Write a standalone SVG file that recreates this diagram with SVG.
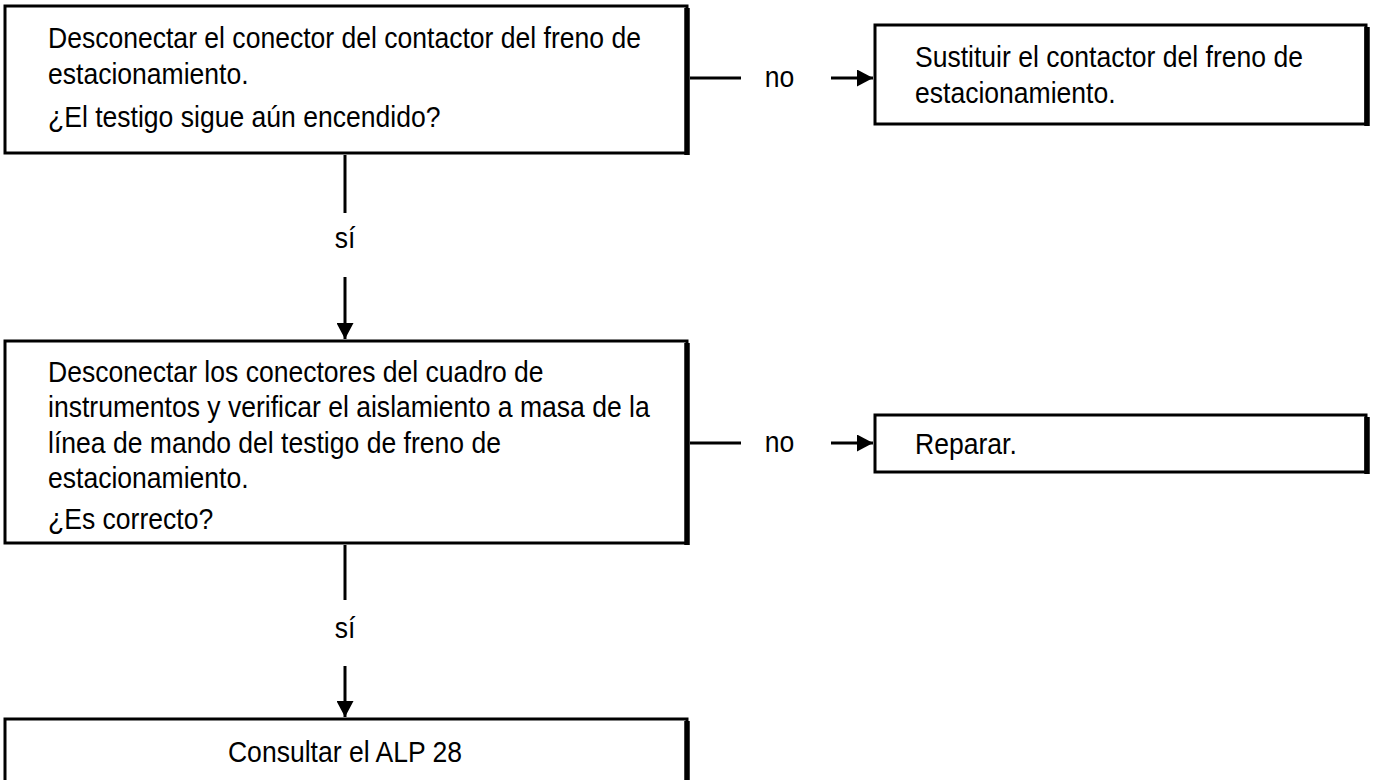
<svg xmlns="http://www.w3.org/2000/svg" width="1374" height="780" viewBox="0 0 1374 780">
<defs>
<style>
.box{fill:#fff;stroke:#000;stroke-width:3}
.edge{stroke:#000;stroke-width:5.5;fill:none}
.t{font-family:"Liberation Sans",Arial,sans-serif;font-size:30px;fill:#000}
.m{text-anchor:middle}
.c{stroke:#000;stroke-width:3;fill:none}
</style>
<marker id="ah" markerUnits="userSpaceOnUse" markerWidth="17" markerHeight="17" refX="16" refY="8.5" orient="auto">
<path d="M0,0 L16,8.5 L0,17 z" fill="#000"/>
</marker>
</defs>
<rect width="1374" height="780" fill="#fff"/>
<g id="connectors">
<line class="c" x1="690" y1="78" x2="741" y2="78"/>
<text class="t m" transform="translate(779.5,87) scale(0.885,1)">no</text>
<line class="c" x1="831" y1="78" x2="873" y2="78" marker-end="url(#ah)"/>
<line class="c" x1="345" y1="155" x2="345" y2="213"/>
<text class="t m" transform="translate(345,248) scale(0.885,1)">sí</text>
<line class="c" x1="345" y1="277" x2="345" y2="339" marker-end="url(#ah)"/>
<line class="c" x1="690" y1="443" x2="741" y2="443"/>
<text class="t m" transform="translate(779.5,452) scale(0.885,1)">no</text>
<line class="c" x1="831" y1="443" x2="873" y2="443" marker-end="url(#ah)"/>
<line class="c" x1="345" y1="545" x2="345" y2="600"/>
<text class="t m" transform="translate(345,638) scale(0.885,1)">sí</text>
<line class="c" x1="345" y1="666" x2="345" y2="717" marker-end="url(#ah)"/>
</g>
<g id="n1">
<rect class="box" x="5" y="6" width="682" height="147"/>
<line class="edge" x1="687" y1="8" x2="687" y2="155"/>
<text class="t" transform="translate(48,48) scale(0.885,1)">Desconectar el conector del contactor del freno de</text>
<text class="t" transform="translate(48,84) scale(0.885,1)">estacionamiento.</text>
<text class="t" transform="translate(48,127) scale(0.885,1)">¿El testigo sigue aún encendido?</text>
</g>
<g id="n2">
<rect class="box" x="875" y="25" width="491" height="99"/>
<line class="edge" x1="1367" y1="27" x2="1367" y2="126"/>
<text class="t" transform="translate(915,67) scale(0.885,1)">Sustituir el contactor del freno de</text>
<text class="t" transform="translate(915,103) scale(0.885,1)">estacionamiento.</text>
</g>
<g id="n3">
<rect class="box" x="5" y="341" width="682" height="202"/>
<line class="edge" x1="687" y1="343" x2="687" y2="545"/>
<text class="t" transform="translate(48,382) scale(0.885,1)">Desconectar los conectores del cuadro de</text>
<text class="t" transform="translate(48,417) scale(0.885,1)">instrumentos y verificar el aislamiento a masa de la</text>
<text class="t" transform="translate(48,453) scale(0.885,1)">línea de mando del testigo de freno de</text>
<text class="t" transform="translate(48,488) scale(0.885,1)">estacionamiento.</text>
<text class="t" transform="translate(48,529) scale(0.885,1)">¿Es correcto?</text>
</g>
<g id="n4">
<rect class="box" x="875" y="415" width="491" height="57"/>
<line class="edge" x1="1367" y1="417" x2="1367" y2="474"/>
<text class="t" transform="translate(915,454) scale(0.885,1)">Reparar.</text>
</g>
<g id="n5">
<rect class="box" x="5" y="719" width="682" height="80"/>
<line class="edge" x1="687" y1="721" x2="687" y2="800"/>
<text class="t m" transform="translate(345,762) scale(0.885,1)">Consultar el ALP 28</text>
</g>
</svg>
